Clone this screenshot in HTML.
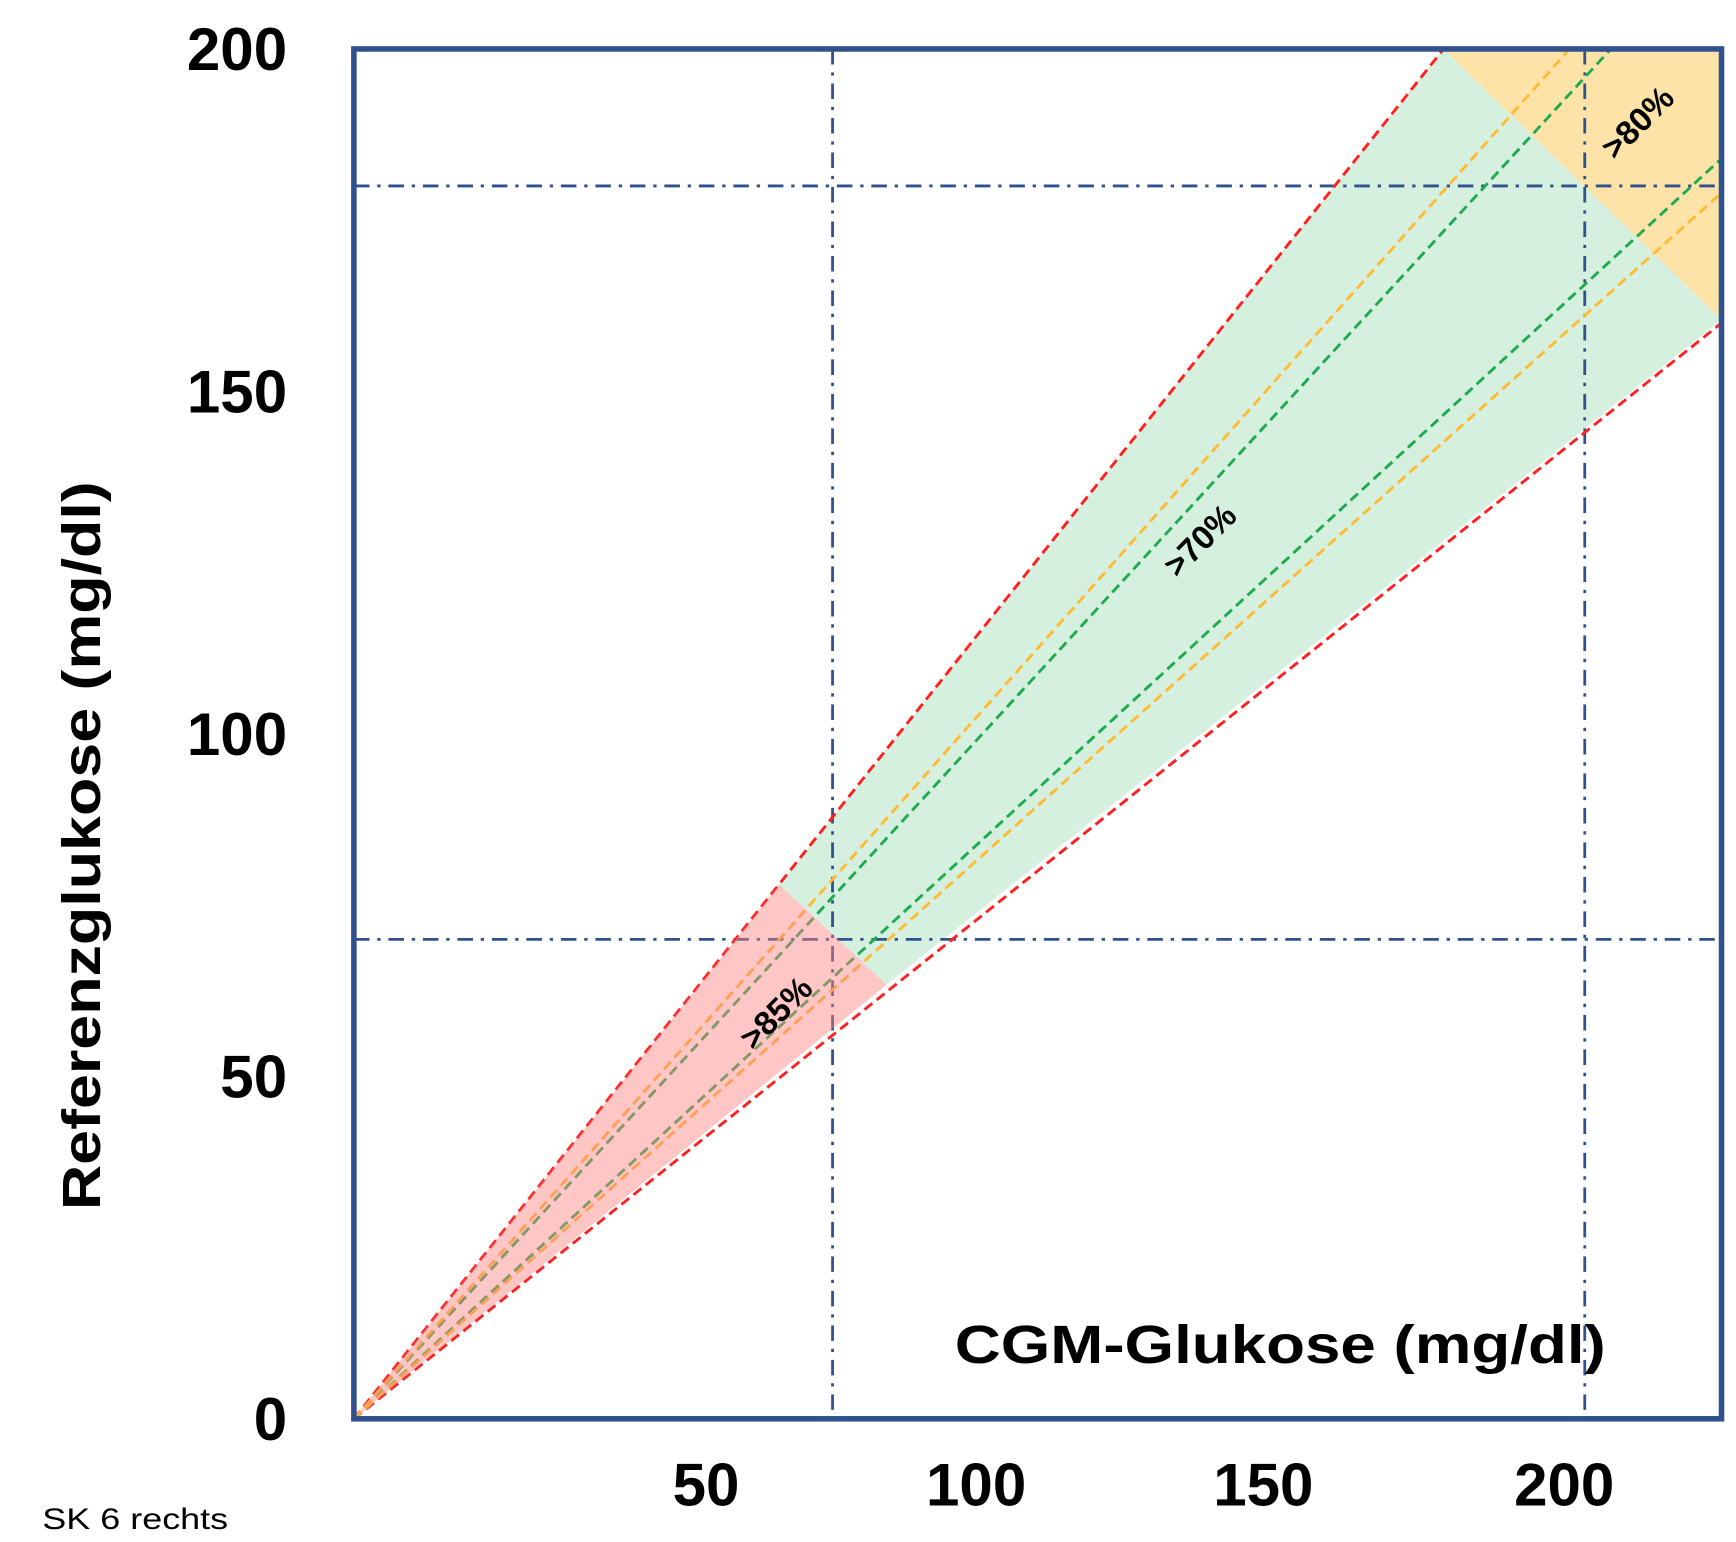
<!DOCTYPE html>
<html><head><meta charset="utf-8"><style>
html,body{margin:0;padding:0;background:#fff;}
svg{display:block;}
text{font-family:"Liberation Sans",sans-serif;}
</style></head><body>
<svg id="chart" width="1736" height="1542" viewBox="0 0 1560 1385.7" xmlns="http://www.w3.org/2000/svg">
<g id="fills"></g>
<g id="grid"></g>
<g id="lines"></g>
<g id="overfills"></g>
<rect x="318" y="44" width="1229" height="1231" fill="none" stroke="#2f528f" stroke-width="5"/>
<g id="labels"></g>
<text transform="translate(90,760) rotate(-90)" text-anchor="middle" font-size="48" font-weight="bold" textLength="655" lengthAdjust="spacingAndGlyphs">Referenzglukose (mg/dl)</text>
<text x="858" y="1225" font-size="48" font-weight="bold" textLength="585" lengthAdjust="spacingAndGlyphs">CGM-Glukose (mg/dl)</text>
<text x="38" y="1374" font-size="27" textLength="167" lengthAdjust="spacingAndGlyphs">SK 6 rechts</text>
</svg>
<script>
const yTicks=[0,50,100,150,200];
const xTickLabels=[50,100,150,200];
const xTickPos=[51.5,91,133,177];
const gridX=[70,180];
const gridY=[70,180];
const lineNames=['red-upper','red-lower','green-upper','green-lower','orange-upper','orange-lower'];
const lineSlopes=[1.255,0.8,1.088,0.92,1.125,0.895];
const lineColors=['#ff2020','#ff2020','#1faa50','#1faa50','#ffbb33','#ffbb33'];
const redZone=[[0,0],[62.2,78],[77.9,63.4]];
const greenZone=[[62.2,78],[159.3,200],[200,160.5],[77.9,63.4]];
const orangeZone=[[159.3,200],[200,200],[200,160.5]];
const zoneLabels=['>85%','>70%','>80%'];
const zoneLabelPos=[[62,59],[124,128],[188,189]];
const NS='http://www.w3.org/2000/svg';
const X0=318,X1=1547,Y0=1275,Y1=44;
const sx=v=>X0+(X1-X0)*v/200;
const sy=v=>Y0-(Y0-Y1)*v/200;
function mk(t,p,parent){const e=document.createElementNS(NS,t);for(const k in p)e.setAttribute(k,p[k]);document.getElementById(parent).appendChild(e);return e;}
function poly(pts){return pts.map(p=>sx(p[0])+','+sy(p[1])).join(' ');}
let e;
e=mk('polygon',{points:poly(greenZone),fill:'#d5f0de'},'fills');


e=mk('polygon',{points:poly(orangeZone),fill:'#fde3a8'},'fills');


gridX.forEach(v=>{
 e=mk('line',{x1:sx(v),x2:sx(v),y1:Y1,y2:Y0,stroke:'#2f528f','stroke-width':2.5,'stroke-dasharray':'14 7 3 7'},'grid');
 
 
});
gridY.forEach(v=>{
 e=mk('line',{x1:X0,x2:X1,y1:sy(v),y2:sy(v),stroke:'#2f528f','stroke-width':2.5,'stroke-dasharray':'14 7 3 7'},'grid');
 
 
});
lineSlopes.forEach((m,i)=>{
 let xe=200,ye=200*m; if(ye>200){ye=200;xe=200/m;}
 e=mk('line',{x1:sx(0),y1:sy(0),x2:sx(xe),y2:sy(ye),stroke:lineColors[i],'stroke-width':2.6,'stroke-dasharray':'9 5'},'lines');
 
 
});
e=mk('polygon',{points:poly(redZone),fill:'#ff8080','fill-opacity':0.45},'overfills');


zoneLabels.forEach((t,i)=>{
 const p=zoneLabelPos[i];
 e=mk('text',{transform:'translate('+sx(p[0])+','+sy(p[1])+') rotate(-45)','text-anchor':'middle','dominant-baseline':'middle','font-size':30,'font-weight':'bold'},'labels');
 e.textContent=t;
 
 
});
yTicks.forEach(v=>{
 e=mk('text',{x:258,y:sy(v)+19,'text-anchor':'end','font-size':54,'font-weight':'bold'},'labels');
 e.textContent=v;
 
 
});
xTickLabels.forEach((v,i)=>{
 e=mk('text',{x:sx(xTickPos[i]),y:1353,'text-anchor':'middle','font-size':54,'font-weight':'bold'},'labels');
 e.textContent=v;
 
 
});
</script>
</body></html>
